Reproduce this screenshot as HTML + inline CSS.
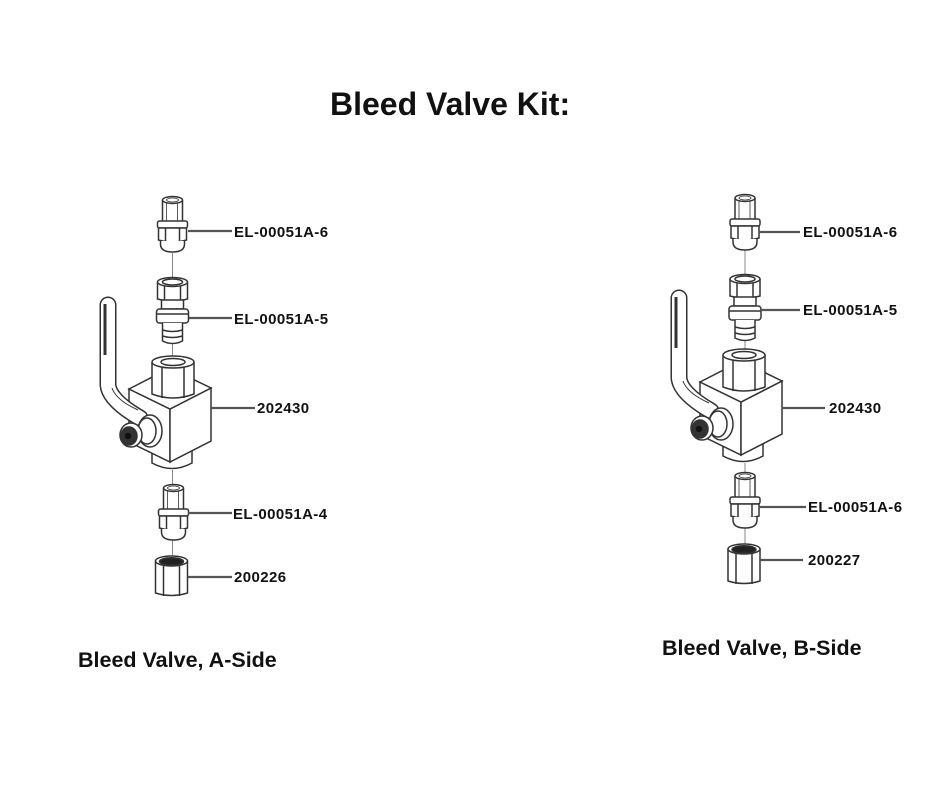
<!DOCTYPE html>
<html>
<head>
<meta charset="utf-8">
<style>
  html, body { margin: 0; padding: 0; background: #fff; }
  body { width: 940px; height: 788px; overflow: hidden; }
  svg { display: block; }
  .lbl { font-family: "Liberation Sans", Arial, sans-serif; font-weight: bold; font-size: 15px; fill: #111; letter-spacing: 0.4px; }
  .cap { font-family: "Liberation Sans", Arial, sans-serif; font-weight: bold; font-size: 21.5px; fill: #111; }
  .ttl { font-family: "Liberation Sans", Arial, sans-serif; font-weight: bold; font-size: 32px; fill: #111; }
</style>
</head>
<body>
<svg width="940" height="788" viewBox="0 0 940 788" xmlns="http://www.w3.org/2000/svg">
  <defs>
    <g id="mf" stroke="#333" stroke-width="1.5">
      <path d="M-10 3 L-10 25 L10 25 L10 3" fill="#fff"/>
      <ellipse cx="0" cy="3" rx="10" ry="3.5" fill="#fff"/>
      <ellipse cx="0" cy="3" rx="6" ry="2" fill="none" stroke-width="0.8"/>
      <line x1="-6" y1="6" x2="-6" y2="24" stroke-width="0.8"/>
      <line x1="5" y1="6" x2="5" y2="24" stroke-width="0.8"/>
      <rect x="-15" y="24" width="30" height="7" rx="2" fill="#fff"/>
      <path d="M-14 31 L14 31 L14 43 Q0 47 -14 43 Z" fill="#fff"/>
      <line x1="-7" y1="31" x2="-7" y2="45"/>
      <line x1="7" y1="31" x2="7" y2="45"/>
      <path d="M-12 44 L-12 47 Q-12 55 0 55 Q12 55 12 47 L12 44" fill="#fff"/>
    </g>
    <g id="ff" stroke="#333" stroke-width="1.5">
      <path d="M-15 4 L-15 21 Q0 25 15 21 L15 4" fill="#fff"/>
      <ellipse cx="0" cy="4" rx="15" ry="4.5" fill="#fff"/>
      <ellipse cx="0" cy="4" rx="10" ry="3" fill="none"/>
      <line x1="-8" y1="8" x2="-8" y2="22"/>
      <line x1="8" y1="8" x2="8" y2="22"/>
      <rect x="-11" y="22" width="22" height="9" fill="#fff"/>
      <rect x="-16" y="31" width="32" height="14" rx="3" fill="#fff"/>
      <line x1="-16" y1="36" x2="16" y2="36"/>
      <path d="M-10 45 L-10 63 Q0 68 10 63 L10 45" fill="#fff"/>
      <path d="M-10 52 Q0 55 10 52 M-10 58 Q0 61 10 58" fill="none"/>
    </g>
    <g id="nt" stroke="#333" stroke-width="1.5">
      <path d="M-16 4 L-16 36 Q0 41 16 36 L16 4" fill="#fff"/>
      <ellipse cx="0" cy="4" rx="16" ry="5" fill="#fff"/>
      <ellipse cx="0" cy="4.5" rx="12" ry="3.8" fill="#222"/>
      <line x1="-8" y1="8" x2="-8" y2="39"/>
      <line x1="8" y1="8" x2="8" y2="39"/>
    </g>
    <g id="vv" stroke="#333" stroke-width="1.5">
      <path d="M152 445 L152 463 Q172 474 192 463 L192 445 Z" fill="#fff"/>
      <path d="M129 389 L170 409 L170 462 L129 442 Z" fill="#fff"/>
      <path d="M170 409 L211 388 L211 441 L170 462 Z" fill="#fff"/>
      <path d="M129 389 L170 368 L211 388 L170 409 Z" fill="#fff"/>
      <path d="M152 362 L152 394 Q173 402 194 394 L194 362" fill="#fff"/>
      <ellipse cx="173" cy="362" rx="21" ry="6" fill="#fff"/>
      <ellipse cx="173" cy="362" rx="12" ry="3.5" fill="#fff"/>
      <line x1="162" y1="367" x2="162" y2="398"/>
      <line x1="184" y1="367" x2="184" y2="398"/>
      <path d="M108 305 L108 385 Q109 400 140 418" fill="none" stroke="#333" stroke-width="17" stroke-linecap="round"/>
      <path d="M108 305 L108 385 Q109 400 140 418" fill="none" stroke="#fff" stroke-width="14" stroke-linecap="round"/>
      <line x1="105" y1="304" x2="105" y2="355" stroke-width="3"/>
      <path d="M112 388 Q116 400 138 410" fill="none" stroke-width="1"/>
      <ellipse cx="150" cy="431" rx="12" ry="16" fill="#fff"/>
      <ellipse cx="147" cy="431" rx="9" ry="13" fill="#fff"/>
      <ellipse cx="131" cy="435" rx="11" ry="12" fill="#fff"/>
      <ellipse cx="129" cy="436" rx="8" ry="9" fill="#333"/>
      <circle cx="128" cy="436" r="4" fill="#111"/>
    </g>
  </defs>

  <text class="ttl" x="330" y="115">Bleed Valve Kit:</text>

  <g stroke="#888" stroke-width="1">
    <line x1="172.5" y1="253" x2="172.5" y2="279"/>
    <line x1="172.5" y1="344" x2="172.5" y2="357"/>
    <line x1="172.5" y1="470" x2="172.5" y2="486"/>
    <line x1="172.5" y1="540" x2="172.5" y2="558"/>
  </g>
  <use href="#mf" x="172.5" y="197"/>
  <use href="#ff" x="172.5" y="278"/>
  <use href="#vv"/>
  <use href="#mf" x="173.5" y="485"/>
  <use href="#nt" x="171.5" y="557"/>

  <g stroke="#555" stroke-width="2.2">
    <line x1="188" y1="231" x2="232" y2="231"/>
    <line x1="189" y1="318" x2="232" y2="318"/>
    <line x1="211" y1="408" x2="255" y2="408"/>
    <line x1="188" y1="513" x2="232" y2="513"/>
    <line x1="188" y1="577" x2="232" y2="577"/>
  </g>
  <text class="lbl" x="234" y="237">EL-00051A-6</text>
  <text class="lbl" x="234" y="324">EL-00051A-5</text>
  <text class="lbl" x="257" y="413">202430</text>
  <text class="lbl" x="233" y="519">EL-00051A-4</text>
  <text class="lbl" x="234" y="582">200226</text>
  <text class="cap" x="78" y="667">Bleed Valve, A-Side</text>

  <g stroke="#888" stroke-width="1">
    <line x1="745" y1="250" x2="745" y2="276"/>
    <line x1="745" y1="341" x2="745" y2="350"/>
    <line x1="745" y1="463" x2="745" y2="474"/>
    <line x1="745" y1="528" x2="745" y2="546"/>
  </g>
  <use href="#mf" x="745" y="195"/>
  <use href="#ff" x="745" y="275"/>
  <use href="#vv" x="571" y="-7"/>
  <use href="#mf" x="745" y="473"/>
  <use href="#nt" x="744" y="545"/>

  <g stroke="#555" stroke-width="2.2">
    <line x1="759" y1="232" x2="800" y2="232"/>
    <line x1="760" y1="310" x2="800" y2="310"/>
    <line x1="782" y1="408" x2="825" y2="408"/>
    <line x1="759" y1="507" x2="806" y2="507"/>
    <line x1="760" y1="560" x2="803" y2="560"/>
  </g>
  <text class="lbl" x="803" y="237">EL-00051A-6</text>
  <text class="lbl" x="803" y="315">EL-00051A-5</text>
  <text class="lbl" x="829" y="413">202430</text>
  <text class="lbl" x="808" y="512">EL-00051A-6</text>
  <text class="lbl" x="808" y="565">200227</text>
  <text class="cap" x="662" y="655">Bleed Valve, B-Side</text>
</svg>
</body>
</html>
